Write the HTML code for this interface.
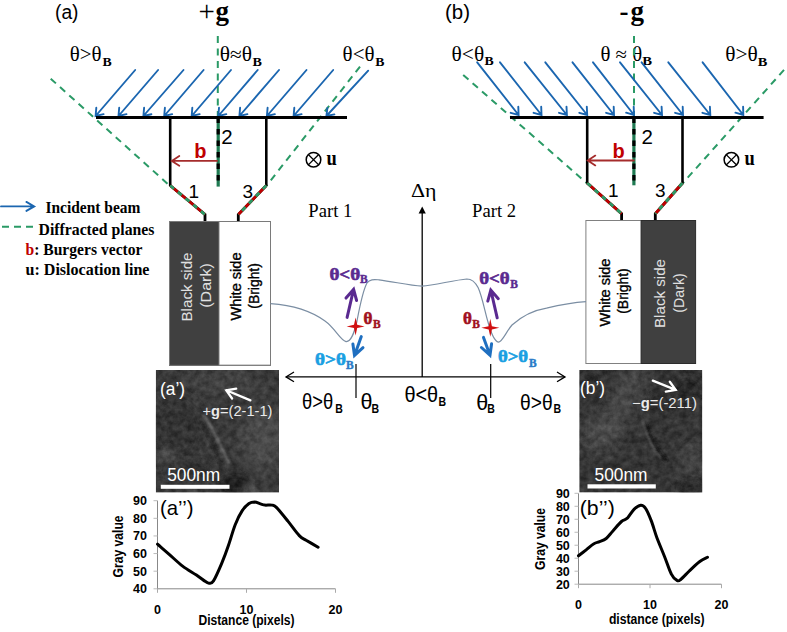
<!DOCTYPE html><html><head><meta charset="utf-8"><title>Dislocation contrast</title><style>html,body{margin:0;padding:0;background:#fff;width:787px;height:632px;overflow:hidden}svg{display:block}</style></head><body>
<svg width="787" height="632" viewBox="0 0 787 632">
<text x="55" y="19.3" font-family="'Liberation Sans', sans-serif" font-size="20" fill="#000" textLength="23.5" lengthAdjust="spacingAndGlyphs">(a)</text>
<text x="198.6" y="20.6" font-family="'Liberation Serif', serif" font-size="29" fill="#000">+</text>
<text x="215.6" y="19.6" font-family="'Liberation Serif', serif" font-size="27" font-weight="bold" fill="#000">g</text>
<text x="69.7" y="60.8" font-family="'Liberation Serif', serif" font-size="20" font-weight="normal" fill="#000" textLength="31.9" lengthAdjust="spacingAndGlyphs">θ>θ</text>
<text x="102.5" y="65.6" font-family="'Liberation Serif', serif" font-size="12" font-weight="bold" fill="#000" textLength="9.2" lengthAdjust="spacingAndGlyphs">B</text>
<text x="219.8" y="60.8" font-family="'Liberation Serif', serif" font-size="20" font-weight="normal" fill="#000" textLength="32.3" lengthAdjust="spacingAndGlyphs">θ≈θ</text>
<text x="252.4" y="65.5" font-family="'Liberation Serif', serif" font-size="12" font-weight="bold" fill="#000" textLength="9.4" lengthAdjust="spacingAndGlyphs">B</text>
<text x="342.6" y="60.8" font-family="'Liberation Serif', serif" font-size="20" font-weight="normal" fill="#000" textLength="31.9" lengthAdjust="spacingAndGlyphs">θ<θ</text>
<text x="375.2" y="65.5" font-family="'Liberation Serif', serif" font-size="12" font-weight="bold" fill="#000" textLength="9.2" lengthAdjust="spacingAndGlyphs">B</text>
<line x1="217.8" y1="36" x2="217.8" y2="117" stroke="#2a9a66" stroke-width="2" stroke-dasharray="7 5.5" stroke-dashoffset="0"/>
<line x1="50.7" y1="78.7" x2="169.5" y2="185.5" stroke="#2a9a66" stroke-width="2" stroke-dasharray="7 5.5" stroke-dashoffset="0"/>
<line x1="360" y1="66.6" x2="266.3" y2="186" stroke="#2a9a66" stroke-width="2" stroke-dasharray="7 5.5" stroke-dashoffset="0"/>
<path d="M135.2,70.0L95.6,116.0M103.6,114.1L95.6,116.0L96.3,107.8" stroke="#1b66b0" stroke-width="1.9" fill="none" stroke-linecap="round" stroke-linejoin="miter"/>
<path d="M158.1,70.0L118.5,116.0M126.5,114.1L118.5,116.0L119.2,107.8" stroke="#1b66b0" stroke-width="1.9" fill="none" stroke-linecap="round" stroke-linejoin="miter"/>
<path d="M183.5,70.0L143.4,116.0M151.4,114.2L143.4,116.0L144.1,107.8" stroke="#1b66b0" stroke-width="1.9" fill="none" stroke-linecap="round" stroke-linejoin="miter"/>
<path d="M203.6,70.0L164.2,116.0M172.2,114.1L164.2,116.0L164.9,107.8" stroke="#1b66b0" stroke-width="1.9" fill="none" stroke-linecap="round" stroke-linejoin="miter"/>
<path d="M231.0,70.0L191.7,116.0M199.7,114.1L191.7,116.0L192.3,107.8" stroke="#1b66b0" stroke-width="1.9" fill="none" stroke-linecap="round" stroke-linejoin="miter"/>
<path d="M257.7,70.0L218.3,116.0M226.3,114.1L218.3,116.0L219.0,107.8" stroke="#1b66b0" stroke-width="1.9" fill="none" stroke-linecap="round" stroke-linejoin="miter"/>
<path d="M279.0,70.0L239.4,116.0M247.4,114.1L239.4,116.0L240.1,107.8" stroke="#1b66b0" stroke-width="1.9" fill="none" stroke-linecap="round" stroke-linejoin="miter"/>
<path d="M306.5,70.0L266.9,116.0M274.9,114.1L266.9,116.0L267.6,107.8" stroke="#1b66b0" stroke-width="1.9" fill="none" stroke-linecap="round" stroke-linejoin="miter"/>
<path d="M333.2,70.0L293.6,116.0M301.6,114.1L293.6,116.0L294.3,107.8" stroke="#1b66b0" stroke-width="1.9" fill="none" stroke-linecap="round" stroke-linejoin="miter"/>
<path d="M368.2,70.7L326.4,116.0M334.4,114.4L326.4,116.0L327.4,107.9" stroke="#1b66b0" stroke-width="1.9" fill="none" stroke-linecap="round" stroke-linejoin="miter"/>
<line x1="96" y1="117.6" x2="347" y2="117.6" stroke="#000" stroke-width="3" />
<line x1="170.2" y1="117.6" x2="170.2" y2="186" stroke="#000" stroke-width="2.6" />
<line x1="266.3" y1="117.6" x2="266.3" y2="186" stroke="#000" stroke-width="2.6" />
<line x1="218.2" y1="119" x2="218.2" y2="186.6" stroke="#1f7a52" stroke-width="3.2" />
<line x1="218.2" y1="119" x2="218.2" y2="186.6" stroke="#000" stroke-width="3.2" stroke-dasharray="5.5 6" stroke-dashoffset="1.6"/>
<path d="M170.2,185.5L205,214.5L205,222" stroke="#000" stroke-width="2.8" fill="none"/>
<path d="M170.2,185.5L205,214.5" stroke="#c00000" stroke-width="2.8" fill="none"/>
<path d="M170.2,185.5L205,214.5" stroke="#2a9a66" stroke-width="2.8" fill="none" stroke-dasharray="5 5"/>
<path d="M266.3,185.5L238.3,214.5L238.3,222" stroke="#000" stroke-width="2.8" fill="none"/>
<path d="M266.3,185.5L238.3,214.5" stroke="#c00000" stroke-width="2.8" fill="none"/>
<path d="M266.3,185.5L238.3,214.5" stroke="#2a9a66" stroke-width="2.8" fill="none" stroke-dasharray="5 5"/>
<text x="221.2" y="143.8" font-family="'Liberation Sans', sans-serif" font-size="20.5" fill="#000">2</text>
<text x="188.5" y="198" font-family="'Liberation Sans', sans-serif" font-size="19" fill="#000">1</text>
<text x="242.5" y="198.3" font-family="'Liberation Sans', sans-serif" font-size="19" fill="#000">3</text>
<text x="194.3" y="157.6" font-family="'Liberation Sans', sans-serif" font-size="20" font-weight="bold" fill="#c00000">b</text>
<path d="M217.0,160.9L171.8,160.9M179.3,165.8L171.8,160.9L179.3,156.0" stroke="#a52c2c" stroke-width="1.8" fill="none" stroke-linecap="round" stroke-linejoin="miter"/>
<circle cx="313.5" cy="159.7" r="7.3" stroke="#000" stroke-width="1.5" fill="none"/>
<path d="M308.3,154.5L318.7,164.9M318.7,154.5L308.3,164.9" stroke="#000" stroke-width="1.3"/>
<text x="326.6" y="164.6" font-family="'Liberation Serif', serif" font-size="22" font-weight="bold" fill="#000" textLength="10.3" lengthAdjust="spacingAndGlyphs">u</text>
<path d="M1.0,206.4L34.2,206.4M26.4,201.9L34.2,206.4L26.4,210.9" stroke="#1b66b0" stroke-width="1.9" fill="none" stroke-linecap="round" stroke-linejoin="miter"/>
<text x="45.4" y="213.3" font-family="'Liberation Serif', serif" font-size="16.5" font-weight="bold" fill="#000" textLength="95" lengthAdjust="spacingAndGlyphs">Incident beam</text>
<line x1="2" y1="226.7" x2="34" y2="226.7" stroke="#2a9a66" stroke-width="2" stroke-dasharray="7 5" stroke-dashoffset="0"/>
<text x="38.5" y="234.5" font-family="'Liberation Serif', serif" font-size="16.5" font-weight="bold" fill="#000" textLength="116" lengthAdjust="spacingAndGlyphs">Diffracted planes</text>
<text x="25.5" y="254.8" font-family="'Liberation Serif', serif" font-size="16.5" font-weight="bold" fill="#000" textLength="117" lengthAdjust="spacingAndGlyphs"><tspan fill="#c00000">b</tspan>: Burgers vector</text>
<text x="25.5" y="274.7" font-family="'Liberation Serif', serif" font-size="16.5" font-weight="bold" fill="#000" textLength="124" lengthAdjust="spacingAndGlyphs">u: Dislocation line</text>
<rect x="169.5" y="221.5" width="49.5" height="143.8" fill="#404040" stroke="#2c2c2c" stroke-width="1"/>
<rect x="219" y="221.5" width="51.5" height="143.8" fill="#fff" stroke="#808080" stroke-width="1"/>
<rect x="169.5" y="221.5" width="101" height="143.8" fill="none" stroke="#7a7a7a" stroke-width="1"/>
<text x="0" y="0" transform="translate(186.8,287) rotate(-90)" text-anchor="middle" dominant-baseline="central" font-family="'Liberation Sans', sans-serif" font-size="14.5" fill="#e0e0e0" textLength="69" lengthAdjust="spacingAndGlyphs">Black  side</text>
<text x="0" y="0" transform="translate(205.9,285.5) rotate(-90)" text-anchor="middle" dominant-baseline="central" font-family="'Liberation Sans', sans-serif" font-size="14.5" fill="#e0e0e0" textLength="44.5" lengthAdjust="spacingAndGlyphs">(Dark)</text>
<text x="0" y="0" transform="translate(236.4,286.5) rotate(-90)" text-anchor="middle" dominant-baseline="central" font-family="'Liberation Sans', sans-serif" font-size="14.5" fill="#000" stroke="#000" stroke-width="0.35" textLength="68" lengthAdjust="spacingAndGlyphs">White side</text>
<text x="0" y="0" transform="translate(253.5,285.9) rotate(-90)" text-anchor="middle" dominant-baseline="central" font-family="'Liberation Sans', sans-serif" font-size="14.5" fill="#000" stroke="#000" stroke-width="0.35" textLength="45.5" lengthAdjust="spacingAndGlyphs">(Bright)</text>
<text x="445" y="19.3" font-family="'Liberation Sans', sans-serif" font-size="20" fill="#000" textLength="25" lengthAdjust="spacingAndGlyphs">(b)</text>
<text x="619.6" y="19.6" font-family="'Liberation Serif', serif" font-size="27" font-weight="bold" fill="#000">-</text>
<text x="630.6" y="20.2" font-family="'Liberation Serif', serif" font-size="27" font-weight="bold" fill="#000">g</text>
<text x="451.6" y="60.8" font-family="'Liberation Serif', serif" font-size="20" font-weight="normal" fill="#000" textLength="32.6" lengthAdjust="spacingAndGlyphs">θ<θ</text>
<text x="484.5" y="65.3" font-family="'Liberation Serif', serif" font-size="12" font-weight="bold" fill="#000" textLength="9.2" lengthAdjust="spacingAndGlyphs">B</text>
<text x="600.4" y="60.8" font-family="'Liberation Serif', serif" font-size="20" font-weight="normal" fill="#000" textLength="41.7" lengthAdjust="spacingAndGlyphs">θ ≈ θ</text>
<text x="642.2" y="65.2" font-family="'Liberation Serif', serif" font-size="12" font-weight="bold" fill="#000" textLength="9.8" lengthAdjust="spacingAndGlyphs">B</text>
<text x="725.2" y="60.8" font-family="'Liberation Serif', serif" font-size="20" font-weight="normal" fill="#000" textLength="32.6" lengthAdjust="spacingAndGlyphs">θ>θ</text>
<text x="757.8" y="65.5" font-family="'Liberation Serif', serif" font-size="12" font-weight="bold" fill="#000" textLength="9.6" lengthAdjust="spacingAndGlyphs">B</text>
<line x1="634" y1="36" x2="634" y2="117" stroke="#2a9a66" stroke-width="2" stroke-dasharray="7 5.5" stroke-dashoffset="0"/>
<line x1="463.2" y1="75" x2="587.2" y2="183.5" stroke="#2a9a66" stroke-width="2" stroke-dasharray="7 5.5" stroke-dashoffset="0"/>
<line x1="784" y1="69.9" x2="682.5" y2="183.5" stroke="#2a9a66" stroke-width="2" stroke-dasharray="7 5.5" stroke-dashoffset="0"/>
<path d="M477.2,62.3L518.6,115.0M518.3,106.8L518.6,115.0L510.7,112.8" stroke="#1b66b0" stroke-width="1.9" fill="none" stroke-linecap="round" stroke-linejoin="miter"/>
<path d="M500.0,62.3L541.5,115.0M541.2,106.8L541.5,115.0L533.6,112.8" stroke="#1b66b0" stroke-width="1.9" fill="none" stroke-linecap="round" stroke-linejoin="miter"/>
<path d="M524.7,62.3L566.9,115.0M566.5,106.8L566.9,115.0L559.0,112.8" stroke="#1b66b0" stroke-width="1.9" fill="none" stroke-linecap="round" stroke-linejoin="miter"/>
<path d="M545.3,62.3L587.2,115.0M586.8,106.8L587.2,115.0L579.3,112.8" stroke="#1b66b0" stroke-width="1.9" fill="none" stroke-linecap="round" stroke-linejoin="miter"/>
<path d="M572.5,62.3L614.0,115.0M613.7,106.8L614.0,115.0L606.1,112.8" stroke="#1b66b0" stroke-width="1.9" fill="none" stroke-linecap="round" stroke-linejoin="miter"/>
<path d="M593.0,62.3L634.0,115.0M633.7,106.8L634.0,115.0L626.1,112.7" stroke="#1b66b0" stroke-width="1.9" fill="none" stroke-linecap="round" stroke-linejoin="miter"/>
<path d="M620.0,62.3L662.0,115.0M661.6,106.8L662.0,115.0L654.1,112.8" stroke="#1b66b0" stroke-width="1.9" fill="none" stroke-linecap="round" stroke-linejoin="miter"/>
<path d="M641.6,62.3L683.0,115.0M682.7,106.8L683.0,115.0L675.1,112.8" stroke="#1b66b0" stroke-width="1.9" fill="none" stroke-linecap="round" stroke-linejoin="miter"/>
<path d="M668.3,62.3L710.3,115.0M709.9,106.8L710.3,115.0L702.4,112.8" stroke="#1b66b0" stroke-width="1.9" fill="none" stroke-linecap="round" stroke-linejoin="miter"/>
<path d="M702.6,62.3L743.3,115.0M743.1,106.8L743.3,115.0L735.4,112.7" stroke="#1b66b0" stroke-width="1.9" fill="none" stroke-linecap="round" stroke-linejoin="miter"/>
<line x1="510" y1="117.5" x2="763.6" y2="117.5" stroke="#000" stroke-width="3" />
<line x1="587.2" y1="117.5" x2="587.2" y2="183.5" stroke="#000" stroke-width="2.6" />
<line x1="682.5" y1="117.5" x2="682.5" y2="183.5" stroke="#000" stroke-width="2.6" />
<line x1="633.9" y1="119" x2="633.9" y2="185.3" stroke="#1f7a52" stroke-width="3.2" />
<line x1="633.9" y1="119" x2="633.9" y2="185.3" stroke="#000" stroke-width="3.2" stroke-dasharray="5.5 6" stroke-dashoffset="1.6"/>
<path d="M587.2,183L621.6,213.7L621.6,221" stroke="#000" stroke-width="2.8" fill="none"/>
<path d="M587.2,183L621.6,213.7" stroke="#c00000" stroke-width="2.8" fill="none"/>
<path d="M587.2,183L621.6,213.7" stroke="#2a9a66" stroke-width="2.8" fill="none" stroke-dasharray="5 5"/>
<path d="M682.5,183L655.3,213.7L655.3,221" stroke="#000" stroke-width="2.8" fill="none"/>
<path d="M682.5,183L655.3,213.7" stroke="#c00000" stroke-width="2.8" fill="none"/>
<path d="M682.5,183L655.3,213.7" stroke="#2a9a66" stroke-width="2.8" fill="none" stroke-dasharray="5 5"/>
<text x="641.5" y="143.7" font-family="'Liberation Sans', sans-serif" font-size="20.5" fill="#000">2</text>
<text x="608" y="196.8" font-family="'Liberation Sans', sans-serif" font-size="19" fill="#000">1</text>
<text x="655" y="196.8" font-family="'Liberation Sans', sans-serif" font-size="19" fill="#000">3</text>
<text x="612.5" y="157.7" font-family="'Liberation Sans', sans-serif" font-size="20" font-weight="bold" fill="#c00000">b</text>
<path d="M633.8,160.5L587.8,160.5M595.3,165.4L587.8,160.5L595.3,155.6" stroke="#a52c2c" stroke-width="1.8" fill="none" stroke-linecap="round" stroke-linejoin="miter"/>
<circle cx="731.4" cy="159.8" r="7.3" stroke="#000" stroke-width="1.5" fill="none"/>
<path d="M726.2,154.6L736.6,165.0M736.6,154.6L726.2,165.0" stroke="#000" stroke-width="1.3"/>
<text x="744.4" y="164.6" font-family="'Liberation Serif', serif" font-size="22" font-weight="bold" fill="#000" textLength="10.3" lengthAdjust="spacingAndGlyphs">u</text>
<rect x="585.9" y="220.5" width="55.3" height="143" fill="#fff" stroke="#808080" stroke-width="1"/>
<rect x="641.2" y="220.5" width="54.4" height="143" fill="#404040" stroke="#2c2c2c" stroke-width="1"/>
<text x="0" y="0" transform="translate(604.8,292.6) rotate(-90)" text-anchor="middle" dominant-baseline="central" font-family="'Liberation Sans', sans-serif" font-size="14.5" fill="#000" stroke="#000" stroke-width="0.35" textLength="68" lengthAdjust="spacingAndGlyphs">White side</text>
<text x="0" y="0" transform="translate(622.9,291) rotate(-90)" text-anchor="middle" dominant-baseline="central" font-family="'Liberation Sans', sans-serif" font-size="14.5" fill="#000" stroke="#000" stroke-width="0.35" textLength="45.5" lengthAdjust="spacingAndGlyphs">(Bright)</text>
<text x="0" y="0" transform="translate(659.5,293.5) rotate(-90)" text-anchor="middle" dominant-baseline="central" font-family="'Liberation Sans', sans-serif" font-size="14.5" fill="#e0e0e0" textLength="69" lengthAdjust="spacingAndGlyphs">Black  side</text>
<text x="0" y="0" transform="translate(679.2,293) rotate(-90)" text-anchor="middle" dominant-baseline="central" font-family="'Liberation Sans', sans-serif" font-size="14.5" fill="#e0e0e0" textLength="39.5" lengthAdjust="spacingAndGlyphs">(Dark)</text>
<text x="308.3" y="216.5" font-family="'Liberation Serif', serif" font-size="19.5" fill="#000" textLength="44" lengthAdjust="spacingAndGlyphs">Part 1</text>
<text x="472.1" y="216.5" font-family="'Liberation Serif', serif" font-size="19.5" fill="#000" textLength="44" lengthAdjust="spacingAndGlyphs">Part 2</text>
<text x="411" y="197.3" font-family="'Liberation Serif', serif" font-size="18" fill="#000" textLength="25.5" lengthAdjust="spacingAndGlyphs">Δη</text>
<line x1="422.2" y1="212" x2="422.2" y2="377" stroke="#000" stroke-width="1.3" />
<path d="M422.2,206.5L418.6,213.5L425.8,213.5Z" fill="#000"/>
<line x1="286" y1="376.9" x2="565" y2="376.9" stroke="#000" stroke-width="1.3" />
<path d="M294,372L286,376.9L294,381.8" stroke="#000" stroke-width="1.3" fill="none"/>
<path d="M557,372L565,376.9L557,381.8" stroke="#000" stroke-width="1.3" fill="none"/>
<line x1="356" y1="364" x2="356" y2="398" stroke="#000" stroke-width="1.2" />
<line x1="490.7" y1="364" x2="490.7" y2="398" stroke="#000" stroke-width="1.2" />
<path d="M270.5,303.6 C290,305 310,310 325,321 C335,328 340,340 346,341.6 C351,342 354,334 357,321 C360,305 363,290 367,283 C370,279 374,279.5 379,279.8 C395,282 410,285.5 422,286.2 C435,285 455,280 466.8,279 C472,279 475,281.5 478.2,287.8 C482,296 485,312 488,322 C491,333 494,341 498.4,342.2 C502,342.5 506,332 512,325 C522,316 535,310 546.5,308.1 C560,305 575,302.5 586,301.7" stroke="#7b8ea3" stroke-width="1.2" fill="none"/>
<text x="329.4" y="279.5" font-family="'Liberation Serif', serif" font-size="17" font-weight="bold" fill="#5a2a90" stroke="#5a2a90" stroke-width="0.6" textLength="30.8" lengthAdjust="spacingAndGlyphs">θ<θ</text>
<text x="360.0" y="283.3" font-family="'Liberation Serif', serif" font-size="11.5" font-weight="bold" fill="#5a2a90" stroke="#5a2a90" stroke-width="0.42">B</text>
<text x="479.2" y="283.7" font-family="'Liberation Serif', serif" font-size="17" font-weight="bold" fill="#5a2a90" stroke="#5a2a90" stroke-width="0.6" textLength="30.5" lengthAdjust="spacingAndGlyphs">θ<θ</text>
<text x="510.2" y="288.3" font-family="'Liberation Serif', serif" font-size="11.5" font-weight="bold" fill="#5a2a90" stroke="#5a2a90" stroke-width="0.42">B</text>
<text x="315.1" y="365" font-family="'Liberation Serif', serif" font-size="17" font-weight="bold" fill="#1a9fe2" stroke="#1a9fe2" stroke-width="0.6" textLength="30.9" lengthAdjust="spacingAndGlyphs">θ>θ</text>
<text x="345.9" y="369.3" font-family="'Liberation Serif', serif" font-size="11.5" font-weight="bold" fill="#2a7cc8" stroke="#2a7cc8" stroke-width="0.42">B</text>
<text x="497.9" y="362" font-family="'Liberation Serif', serif" font-size="16" font-weight="bold" fill="#1a9fe2" stroke="#1a9fe2" stroke-width="0.6" textLength="30.2" lengthAdjust="spacingAndGlyphs">θ>θ</text>
<text x="528.9" y="366.9" font-family="'Liberation Serif', serif" font-size="11.5" font-weight="bold" fill="#2a7cc8" stroke="#2a7cc8" stroke-width="0.42">B</text>
<text x="363.6" y="324" font-family="'Liberation Serif', serif" font-size="17" font-weight="bold" fill="#a01020" stroke="#a01020" stroke-width="0.6">θ</text>
<text x="373.0" y="328.2" font-family="'Liberation Serif', serif" font-size="11.5" font-weight="bold" fill="#a01020" stroke="#a01020" stroke-width="0.42">B</text>
<text x="462.9" y="324" font-family="'Liberation Serif', serif" font-size="17" font-weight="bold" fill="#a01020" stroke="#a01020" stroke-width="0.6">θ</text>
<text x="472.3" y="328.1" font-family="'Liberation Serif', serif" font-size="11.5" font-weight="bold" fill="#a01020" stroke="#a01020" stroke-width="0.42">B</text>
<path d="M347.1,317.4L353.6,289.4M346.0,298.1L353.6,289.4L356.6,300.5" stroke="#5a2a90" stroke-width="3" fill="none" stroke-linecap="round" stroke-linejoin="miter"/>
<path d="M497.2,317.8L490.8,290.0M487.8,301.1L490.8,290.0L498.3,298.7" stroke="#5a2a90" stroke-width="3" fill="none" stroke-linecap="round" stroke-linejoin="miter"/>
<path d="M361.3,336.6L354.5,355.4M363.0,347.7L354.5,355.4L352.9,344.0" stroke="#1f6fc0" stroke-width="3" fill="none" stroke-linecap="round" stroke-linejoin="miter"/>
<path d="M483.5,337.4L490.0,355.2M491.6,343.8L490.0,355.2L481.4,347.5" stroke="#1f6fc0" stroke-width="3" fill="none" stroke-linecap="round" stroke-linejoin="miter"/>
<polygon points="355.6,317.4 357.2,324.8 364.6,326.4 357.2,328.0 355.6,335.4 354.0,328.0 346.6,326.4 354.0,324.8" fill="#d01010"/>
<polygon points="490.3,318.8 491.9,326.2 499.3,327.8 491.9,329.4 490.3,336.8 488.7,329.4 481.3,327.8 488.7,326.2" fill="#d01010"/>
<text x="302.0" y="408.8" font-family="'Liberation Sans', sans-serif" font-size="21.5" font-weight="normal" fill="#000" textLength="31.2" lengthAdjust="spacingAndGlyphs">θ>θ</text>
<text x="335.3" y="412.8" font-family="'Liberation Sans', sans-serif" font-size="13.5" font-weight="bold" fill="#000" textLength="7.6" lengthAdjust="spacingAndGlyphs">B</text>
<text x="360.4" y="408.8" font-family="'Liberation Sans', sans-serif" font-size="21.5" font-weight="normal" fill="#000">θ</text>
<text x="371.6" y="412.8" font-family="'Liberation Sans', sans-serif" font-size="13.5" font-weight="bold" fill="#000" textLength="7.6" lengthAdjust="spacingAndGlyphs">B</text>
<text x="404.4" y="402.3" font-family="'Liberation Sans', sans-serif" font-size="21.5" font-weight="normal" fill="#000" textLength="33.8" lengthAdjust="spacingAndGlyphs">θ<θ</text>
<text x="438.6" y="405.7" font-family="'Liberation Sans', sans-serif" font-size="13.5" font-weight="bold" fill="#000" textLength="7.6" lengthAdjust="spacingAndGlyphs">B</text>
<text x="476.3" y="409.8" font-family="'Liberation Sans', sans-serif" font-size="21.5" font-weight="normal" fill="#000">θ</text>
<text x="487.2" y="412.6" font-family="'Liberation Sans', sans-serif" font-size="13.5" font-weight="bold" fill="#000" textLength="7.6" lengthAdjust="spacingAndGlyphs">B</text>
<text x="520.1" y="409.8" font-family="'Liberation Sans', sans-serif" font-size="21.5" font-weight="normal" fill="#000" textLength="32.6" lengthAdjust="spacingAndGlyphs">θ>θ</text>
<text x="553.5" y="412.6" font-family="'Liberation Sans', sans-serif" font-size="13.5" font-weight="bold" fill="#000" textLength="7.6" lengthAdjust="spacingAndGlyphs">B</text>
<defs><filter id="noise1" x="0" y="0" width="100%" height="100%" color-interpolation-filters="sRGB"><feTurbulence type="fractalNoise" baseFrequency="0.16" numOctaves="3" seed="7" result="n"/><feColorMatrix in="n" type="matrix" values="1 0 0 0 0  1 0 0 0 0  1 0 0 0 0  0 0 0 0 1" result="g"/><feComposite in="SourceGraphic" in2="g" operator="arithmetic" k1="0" k2="1" k3="0.2" k4="-0.1"/></filter><filter id="noise2" x="0" y="0" width="100%" height="100%" color-interpolation-filters="sRGB"><feTurbulence type="fractalNoise" baseFrequency="0.16" numOctaves="3" seed="11" result="n"/><feColorMatrix in="n" type="matrix" values="1 0 0 0 0  1 0 0 0 0  1 0 0 0 0  0 0 0 0 1" result="g"/><feComposite in="SourceGraphic" in2="g" operator="arithmetic" k1="0" k2="1" k3="0.2" k4="-0.1"/></filter><filter id="b8" x="-50%" y="-50%" width="200%" height="200%"><feGaussianBlur stdDeviation="8"/></filter><filter id="b4" x="-50%" y="-50%" width="200%" height="200%"><feGaussianBlur stdDeviation="4"/></filter><filter id="b1" x="-50%" y="-50%" width="200%" height="200%"><feGaussianBlur stdDeviation="1"/></filter></defs>
<clipPath id="ca"><rect x="155.8" y="370" width="123.2" height="122.6"/></clipPath>
<g clip-path="url(#ca)"><g filter="url(#noise1)">
<rect x="155.8" y="370" width="123.2" height="122.6" fill="#393939"/>
<ellipse cx="262" cy="438" rx="20" ry="34" fill="#4c4c4c" filter="url(#b8)"/>
<ellipse cx="225" cy="382" rx="40" ry="10" fill="#444" filter="url(#b8)"/>
<ellipse cx="178" cy="430" rx="22" ry="30" fill="#303030" filter="url(#b8)"/>
<ellipse cx="168" cy="458" rx="10" ry="10" fill="#484848" filter="url(#b4)"/>
<ellipse cx="236" cy="484" rx="16" ry="10" fill="#1e1e1e" filter="url(#b4)"/>
<ellipse cx="190" cy="470" rx="25" ry="8" fill="#333" filter="url(#b4)"/>
<circle cx="249" cy="489" r="5" fill="#707070" filter="url(#b4)"/>
<path d="M203,414 C212,426 219,442 229,463" stroke="#686868" stroke-width="2.6" fill="none" filter="url(#b1)"/>
<path d="M200,420 C208,432 214,446 222,466" stroke="#2a2a2a" stroke-width="3" fill="none" filter="url(#b1)"/>
</g></g>
<clipPath id="cb"><rect x="579.3" y="370" width="123" height="122.5"/></clipPath>
<g clip-path="url(#cb)"><g filter="url(#noise2)">
<rect x="579.3" y="370" width="123" height="122.5" fill="#353535"/>
<path d="M634,368 C632,395 615,420 592,448" stroke="#4a4a4a" stroke-width="24" fill="none" filter="url(#b8)"/>
<ellipse cx="602" cy="432" rx="18" ry="12" fill="#4a4a4a" filter="url(#b4)"/>
<ellipse cx="692" cy="462" rx="10" ry="18" fill="#4a4a4a" filter="url(#b8)"/>
<ellipse cx="688" cy="388" rx="14" ry="10" fill="#262626" filter="url(#b4)"/>
<ellipse cx="690" cy="488" rx="15" ry="8" fill="#2a2a2a" filter="url(#b4)"/>
<ellipse cx="590" cy="380" rx="10" ry="8" fill="#2c2c2c" filter="url(#b4)"/>
<ellipse cx="660" cy="400" rx="14" ry="10" fill="#2e2e2e" filter="url(#b4)"/>
<path d="M643,421 C647,436 653,449 662,458" stroke="#626262" stroke-width="2.2" fill="none" filter="url(#b1)"/>
<path d="M647,424 C651,439 657,451 667,461" stroke="#1c1c1c" stroke-width="3.5" fill="none" filter="url(#b1)"/>
</g></g>
<text x="160" y="394.5" font-family="'Liberation Sans', sans-serif" font-size="18.5" fill="#fff" textLength="25" lengthAdjust="spacingAndGlyphs">(a’)</text>
<path d="M250.4,400.4L226.3,390.3M232.1,398.5L226.3,390.3L236.2,388.7" stroke="#fff" stroke-width="2.3" fill="none" stroke-linecap="round" stroke-linejoin="miter"/>
<text x="202.5" y="415.5" font-family="'Liberation Sans', sans-serif" font-size="14" fill="#eaeaea" textLength="70" lengthAdjust="spacingAndGlyphs">+<tspan font-weight="bold">g</tspan>=(2-1-1)</text>
<rect x="160.8" y="484.8" width="68.7" height="4" fill="#fff"/>
<text x="167.2" y="480.6" font-family="'Liberation Sans', sans-serif" font-size="17.5" fill="#fff" textLength="53" lengthAdjust="spacingAndGlyphs">500nm</text>
<text x="580" y="393.5" font-family="'Liberation Sans', sans-serif" font-size="18.5" fill="#fff" textLength="25" lengthAdjust="spacingAndGlyphs">(b’)</text>
<path d="M652.8,380.6L675.7,389.9M669.8,381.8L675.7,389.9L665.8,391.6" stroke="#fff" stroke-width="2.3" fill="none" stroke-linecap="round" stroke-linejoin="miter"/>
<text x="632" y="408" font-family="'Liberation Sans', sans-serif" font-size="14" fill="#eaeaea" textLength="65" lengthAdjust="spacingAndGlyphs">−<tspan font-weight="bold">g</tspan>=(-211)</text>
<rect x="587.5" y="484.3" width="68.3" height="4.2" fill="#fff"/>
<text x="594.5" y="480.6" font-family="'Liberation Sans', sans-serif" font-size="17.5" fill="#fff" textLength="53" lengthAdjust="spacingAndGlyphs">500nm</text>
<line x1="157.5" y1="500.7" x2="157.5" y2="589.3" stroke="#888" stroke-width="1" />
<line x1="157.5" y1="588.8" x2="335.5" y2="588.8" stroke="#888" stroke-width="1" />
<line x1="157.5" y1="588.8" x2="157.5" y2="592.8" stroke="#aaa" stroke-width="1" />
<line x1="246.5" y1="588.8" x2="246.5" y2="592.8" stroke="#aaa" stroke-width="1" />
<line x1="335.5" y1="588.8" x2="335.5" y2="592.8" stroke="#aaa" stroke-width="1" />
<line x1="153.5" y1="588.8" x2="157.5" y2="588.8" stroke="#bbb" stroke-width="1" />
<text x="147" y="593.3" text-anchor="end" font-family="'Liberation Sans', sans-serif" font-size="12.5" font-weight="bold" fill="#000">40</text>
<line x1="153.5" y1="571.18" x2="157.5" y2="571.18" stroke="#bbb" stroke-width="1" />
<text x="147" y="575.68" text-anchor="end" font-family="'Liberation Sans', sans-serif" font-size="12.5" font-weight="bold" fill="#000">50</text>
<line x1="153.5" y1="553.56" x2="157.5" y2="553.56" stroke="#bbb" stroke-width="1" />
<text x="147" y="558.06" text-anchor="end" font-family="'Liberation Sans', sans-serif" font-size="12.5" font-weight="bold" fill="#000">60</text>
<line x1="153.5" y1="535.9399999999999" x2="157.5" y2="535.9399999999999" stroke="#bbb" stroke-width="1" />
<text x="147" y="540.4399999999999" text-anchor="end" font-family="'Liberation Sans', sans-serif" font-size="12.5" font-weight="bold" fill="#000">70</text>
<line x1="153.5" y1="518.3199999999999" x2="157.5" y2="518.3199999999999" stroke="#bbb" stroke-width="1" />
<text x="147" y="522.8199999999999" text-anchor="end" font-family="'Liberation Sans', sans-serif" font-size="12.5" font-weight="bold" fill="#000">80</text>
<line x1="153.5" y1="500.7" x2="157.5" y2="500.7" stroke="#bbb" stroke-width="1" />
<text x="147" y="505.2" text-anchor="end" font-family="'Liberation Sans', sans-serif" font-size="12.5" font-weight="bold" fill="#000">90</text>
<text x="157.5" y="613.7" text-anchor="middle" font-family="'Liberation Sans', sans-serif" font-size="12.5" font-weight="bold" fill="#000">0</text>
<text x="246.5" y="613.7" text-anchor="middle" font-family="'Liberation Sans', sans-serif" font-size="12.5" font-weight="bold" fill="#000">10</text>
<text x="335.5" y="613.7" text-anchor="middle" font-family="'Liberation Sans', sans-serif" font-size="12.5" font-weight="bold" fill="#000">20</text>
<path d="M157.5,544.2C159.4,545.9 164.7,550.4 168.9,554.1C173.1,557.7 178.0,562.6 182.6,566.1C187.2,569.6 192.6,572.5 196.4,575.1C200.2,577.6 203.3,580.2 205.5,581.6C207.6,582.9 207.8,583.3 209.1,583.2C210.5,583.0 211.4,584.1 213.5,580.9C215.6,577.6 219.1,569.5 221.6,563.6C224.1,557.7 226.3,551.8 228.5,545.3C230.8,538.8 232.9,530.4 235.2,524.7C237.5,518.9 239.8,514.4 242.1,510.9C244.3,507.4 246.9,505.0 249.0,503.5C251.1,502.1 252.8,502.1 254.7,502.1C256.6,502.2 258.8,503.4 260.5,503.9C262.2,504.4 263.1,504.9 265.0,505.1C266.9,505.3 270.0,504.7 271.9,505.1C273.8,505.5 273.7,504.7 276.4,507.4C279.1,510.1 284.1,516.4 287.9,521.1C291.7,525.8 296.2,532.4 299.3,535.6C302.3,538.8 303.0,538.2 306.1,540.2C309.3,542.1 316.1,546.0 318.1,547.2" stroke="#000" stroke-width="3" fill="none" stroke-linejoin="round" stroke-linecap="round"/>
<text x="160" y="515.2" font-family="'Liberation Sans', sans-serif" font-size="21" fill="#000" textLength="33.5" lengthAdjust="spacingAndGlyphs">(a’’)</text>
<text x="198.5" y="625" font-family="'Liberation Sans', sans-serif" font-size="14" font-weight="bold" fill="#000" textLength="96" lengthAdjust="spacingAndGlyphs">Distance (pixels)</text>
<text x="0" y="0" transform="translate(118.4,577.4) rotate(-90)" dominant-baseline="central" font-family="'Liberation Sans', sans-serif" font-size="14" font-weight="bold" fill="#000" textLength="62" lengthAdjust="spacingAndGlyphs">Gray value</text>
<line x1="578.5" y1="493.3" x2="578.5" y2="584.7" stroke="#888" stroke-width="1" />
<line x1="578.5" y1="584.2" x2="721.4" y2="584.2" stroke="#888" stroke-width="1" />
<line x1="578.5" y1="584.2" x2="578.5" y2="588.2" stroke="#aaa" stroke-width="1" />
<line x1="650.0" y1="584.2" x2="650.0" y2="588.2" stroke="#aaa" stroke-width="1" />
<line x1="721.5" y1="584.2" x2="721.5" y2="588.2" stroke="#aaa" stroke-width="1" />
<line x1="574.5" y1="584.2" x2="578.5" y2="584.2" stroke="#bbb" stroke-width="1" />
<text x="569.8" y="588.7" text-anchor="end" font-family="'Liberation Sans', sans-serif" font-size="12.5" font-weight="bold" fill="#000">20</text>
<line x1="574.5" y1="571.2142857142858" x2="578.5" y2="571.2142857142858" stroke="#bbb" stroke-width="1" />
<text x="569.8" y="575.7142857142858" text-anchor="end" font-family="'Liberation Sans', sans-serif" font-size="12.5" font-weight="bold" fill="#000">30</text>
<line x1="574.5" y1="558.2285714285715" x2="578.5" y2="558.2285714285715" stroke="#bbb" stroke-width="1" />
<text x="569.8" y="562.7285714285715" text-anchor="end" font-family="'Liberation Sans', sans-serif" font-size="12.5" font-weight="bold" fill="#000">40</text>
<line x1="574.5" y1="545.2428571428571" x2="578.5" y2="545.2428571428571" stroke="#bbb" stroke-width="1" />
<text x="569.8" y="549.7428571428571" text-anchor="end" font-family="'Liberation Sans', sans-serif" font-size="12.5" font-weight="bold" fill="#000">50</text>
<line x1="574.5" y1="532.2571428571429" x2="578.5" y2="532.2571428571429" stroke="#bbb" stroke-width="1" />
<text x="569.8" y="536.7571428571429" text-anchor="end" font-family="'Liberation Sans', sans-serif" font-size="12.5" font-weight="bold" fill="#000">60</text>
<line x1="574.5" y1="519.2714285714286" x2="578.5" y2="519.2714285714286" stroke="#bbb" stroke-width="1" />
<text x="569.8" y="523.7714285714286" text-anchor="end" font-family="'Liberation Sans', sans-serif" font-size="12.5" font-weight="bold" fill="#000">70</text>
<line x1="574.5" y1="506.28571428571433" x2="578.5" y2="506.28571428571433" stroke="#bbb" stroke-width="1" />
<text x="569.8" y="510.78571428571433" text-anchor="end" font-family="'Liberation Sans', sans-serif" font-size="12.5" font-weight="bold" fill="#000">80</text>
<line x1="574.5" y1="493.3" x2="578.5" y2="493.3" stroke="#bbb" stroke-width="1" />
<text x="569.8" y="497.8" text-anchor="end" font-family="'Liberation Sans', sans-serif" font-size="12.5" font-weight="bold" fill="#000">90</text>
<text x="578.5" y="609" text-anchor="middle" font-family="'Liberation Sans', sans-serif" font-size="12.5" font-weight="bold" fill="#000">0</text>
<text x="650.0" y="609" text-anchor="middle" font-family="'Liberation Sans', sans-serif" font-size="12.5" font-weight="bold" fill="#000">10</text>
<text x="721.5" y="609" text-anchor="middle" font-family="'Liberation Sans', sans-serif" font-size="12.5" font-weight="bold" fill="#000">20</text>
<path d="M578.5,555.8C579.8,554.8 583.6,551.9 586.2,549.9C588.7,547.9 591.6,545.0 593.9,543.7C596.1,542.3 597.5,542.6 599.6,541.7C601.6,540.9 604.0,540.3 606.2,538.5C608.4,536.7 610.3,533.8 612.9,531.0C615.5,528.1 619.1,523.6 621.5,521.5C623.9,519.4 625.2,520.2 627.3,518.2C629.3,516.2 631.7,511.6 634.0,509.4C636.2,507.2 638.8,505.5 640.7,505.2C642.6,505.0 643.7,505.6 645.4,508.1C647.2,510.6 649.2,515.5 651.1,520.4C653.1,525.4 654.7,531.7 656.9,537.7C659.2,543.7 662.2,550.7 664.6,556.7C667.0,562.7 669.1,569.9 671.2,573.8C673.2,577.8 675.4,579.5 677.0,580.4C678.6,581.4 678.7,581.1 680.7,579.5C682.8,577.9 686.2,574.0 689.3,571.0C692.5,567.9 696.7,563.8 699.8,561.5C702.8,559.2 706.2,557.9 707.5,557.2" stroke="#000" stroke-width="3" fill="none" stroke-linejoin="round" stroke-linecap="round"/>
<text x="579.8" y="515" font-family="'Liberation Sans', sans-serif" font-size="21" fill="#000" textLength="35" lengthAdjust="spacingAndGlyphs">(b’’)</text>
<text x="608.9000000000001" y="623.5" font-family="'Liberation Sans', sans-serif" font-size="14" font-weight="bold" fill="#000" textLength="95.6" lengthAdjust="spacingAndGlyphs">distance (pixels)</text>
<text x="0" y="0" transform="translate(539.6,570) rotate(-90)" dominant-baseline="central" font-family="'Liberation Sans', sans-serif" font-size="14" font-weight="bold" fill="#000" textLength="62" lengthAdjust="spacingAndGlyphs">Gray value</text>
</svg></body></html>
